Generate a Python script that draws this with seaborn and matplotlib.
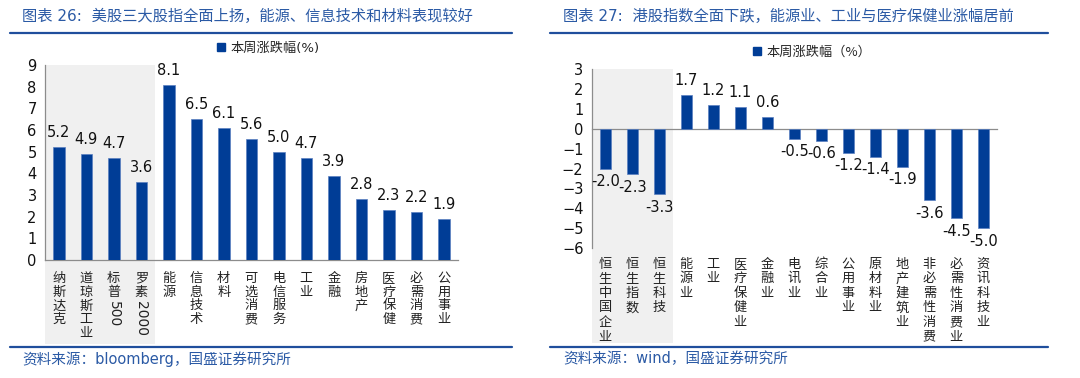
import re
import numpy as np
import pandas as pd
import matplotlib
matplotlib.use("Agg")
import matplotlib.pyplot as plt
import matplotlib.transforms as mtransforms
from matplotlib.patches import Patch, Rectangle
import seaborn as sns

# data
us_names = ['纳斯达克', '道琼斯工业', '标普500', '罗素2000', '能源', '信息技术', '材料',
            '可选消费', '电信服务', '工业', '金融', '房地产', '医疗保健', '必需消费', '公用事业']
us_values = [5.2, 4.9, 4.7, 3.6, 8.1, 6.5, 6.1, 5.6, 5.0, 4.7, 3.9, 2.8, 2.3, 2.2, 1.9]

hk_names = ['恒生中国企业', '恒生指数', '恒生科技', '能源业', '工业', '医疗保健业', '金融业',
            '电讯业', '综合业', '公用事业', '原材料业', '地产建筑业', '非必需性消费',
            '必需性消费业', '资讯科技业']
hk_values = [-2.0, -2.3, -3.3, 1.7, 1.2, 1.1, 0.6, -0.5, -0.6, -1.2, -1.4, -1.9, -3.6, -4.5, -5.0]

us_title = '图表 26:  美股三大股指全面上扬，能源、信息技术和材料表现较好'
hk_title = '图表 27:  港股指数全面下跌，能源业、工业与医疗保健业涨幅居前'
us_legend = '本周涨跌幅(%)'
hk_legend = '本周涨跌幅（%）'
us_source = '资料来源：bloomberg，国盛证券研究所'
hk_source = '资料来源：wind，国盛证券研究所'

sns.set_style('white')
plt.rcParams['font.family'] = ['DejaVu Sans', 'Noto Sans CJK SC']

bar_color = '#003d96'
blue_text = '#2b5aa5'
axis_gray = '#8c8c8c'

fig = plt.figure(figsize=(10.8, 3.78), dpi=100)


def vertical_label(ax, i, label, top_pt, pitch):
    # stack CJK characters vertically, digits drawn rotated
    m = re.match(r'^(\D*)(\d*)$', label)
    chars, digits = m.group(1), m.group(2)
    tr = mtransforms.blended_transform_factory(ax.transData, ax.transAxes)
    for k, ch in enumerate(chars):
        ax.annotate(ch, xy=(i, 0), xycoords=tr, xytext=(0, -top_pt - k * pitch),
                    textcoords='offset points', ha='center', va='top', fontsize=9.5,
                    color='#222222', family=['Noto Sans CJK SC'], annotation_clip=False)
    if digits:
        ax.annotate(digits, xy=(i, 0), xycoords=tr,
                    xytext=(0, -top_pt - len(chars) * pitch - 1),
                    textcoords='offset points', ha='center', va='top', rotation=-90,
                    fontsize=10, color='#222222', annotation_clip=False)


def panel(rect, names, values, ylim, shade_n, shade_bottom, top_pt, pitch, zero_spine):
    ax = fig.add_axes(rect)
    df = pd.DataFrame({'name': names, 'value': values})
    sns.barplot(data=df, x='name', y='value', color=bar_color, width=0.42,
                saturation=1, edgecolor='#5a7fc0', linewidth=0.5, ax=ax, zorder=3)
    n = len(names)
    ax.set_xlim(-0.5, n - 0.5)
    ax.set_ylim(*ylim)
    ax.set_yticks(np.arange(ylim[0], ylim[1] + 1, 1))
    ax.set_xlabel('')
    ax.set_ylabel('')
    ax.set_xticks(range(n))
    ax.set_xticklabels([])
    ax.set_xticks(np.arange(-0.5, n, 1), minor=True)
    ax.tick_params(axis='x', which='major', length=0)
    ax.tick_params(axis='x', which='minor', length=4, color=axis_gray, width=0.8,
                   direction='in' if zero_spine else 'out')
    ax.tick_params(axis='y', length=4, color=axis_gray, width=0.8, labelsize=10.5,
                   labelcolor='#111111', pad=2)
    for s in ['top', 'right']:
        ax.spines[s].set_visible(False)
    for s in ['left', 'bottom']:
        ax.spines[s].set_color(axis_gray)
        ax.spines[s].set_linewidth(0.9)
    if zero_spine:
        ax.spines['bottom'].set_position(('data', 0))
    ax.set_facecolor('none')

    tr = mtransforms.blended_transform_factory(ax.transData, ax.transAxes)
    ax.add_patch(Rectangle((-0.5, shade_bottom), shade_n, 1 - shade_bottom, transform=tr,
                           facecolor='#f0f0f0', edgecolor='none', zorder=0, clip_on=False))

    for i, v in enumerate(values):
        if v >= 0:
            ax.annotate(f'{v:.1f}', xy=(i, v), xytext=(0, 5), textcoords='offset points',
                        ha='center', va='bottom', fontsize=10.5, color='#111111')
        else:
            ax.annotate(f'{v:.1f}', xy=(i, v), xytext=(0, -4), textcoords='offset points',
                        ha='center', va='top', fontsize=10.5, color='#111111')
    for i, name in enumerate(names):
        vertical_label(ax, i, name, top_pt, pitch)
    return ax


ax1 = panel([0.0417, 0.312, 0.382, 0.516], us_names, us_values, (0, 9), 4, -0.43, 8.5, 9.9, False)
ax2 = panel([0.548, 0.344, 0.375, 0.473], hk_names, hk_values, (-6, 3), 3, -0.53, 7.0, 10.5, True)

# legends
h = [Patch(facecolor=bar_color, edgecolor=bar_color)]
fig.legend(h, [us_legend], loc='center', bbox_to_anchor=(268 / 1080, 1 - 48 / 378), frameon=False,
           fontsize=9.5, handlelength=0.6, handleheight=0.6, handletextpad=0.4,
           prop={'family': ['DejaVu Sans', 'Noto Sans CJK SC'], 'size': 9.5})
fig.legend(h, [hk_legend], loc='center', bbox_to_anchor=(812 / 1080, 1 - 52 / 378), frameon=False,
           fontsize=9.5, handlelength=0.6, handleheight=0.6, handletextpad=0.4,
           prop={'family': ['Noto Sans CJK SC', 'DejaVu Sans'], 'size': 9.5})

# titles, rules and sources
for x0, x1, tx, title, src in [(10, 512, 22, us_title, us_source),
                               (550, 1048, 563, hk_title, hk_source)]:
    fig.text(tx / 1080, 1 - 16 / 378, title, ha='left', va='center', fontsize=11,
             color=blue_text, family=['DejaVu Sans', 'Noto Sans CJK SC'])
    fig.add_artist(plt.Line2D([x0 / 1080, x1 / 1080], [1 - 33 / 378] * 2, color='#1f4e9c',
                              linewidth=1.6, transform=fig.transFigure))
    fig.add_artist(plt.Line2D([x0 / 1080, x1 / 1080], [1 - 347 / 378] * 2, color='#1f4e9c',
                              linewidth=1.6, transform=fig.transFigure))
    fig.text(tx / 1080, 1 - 359 / 378, src, ha='left', va='center', fontsize=10.5,
             color=blue_text, family=['DejaVu Sans', 'Noto Sans CJK SC'])

fig.savefig('out.png', dpi=100)
